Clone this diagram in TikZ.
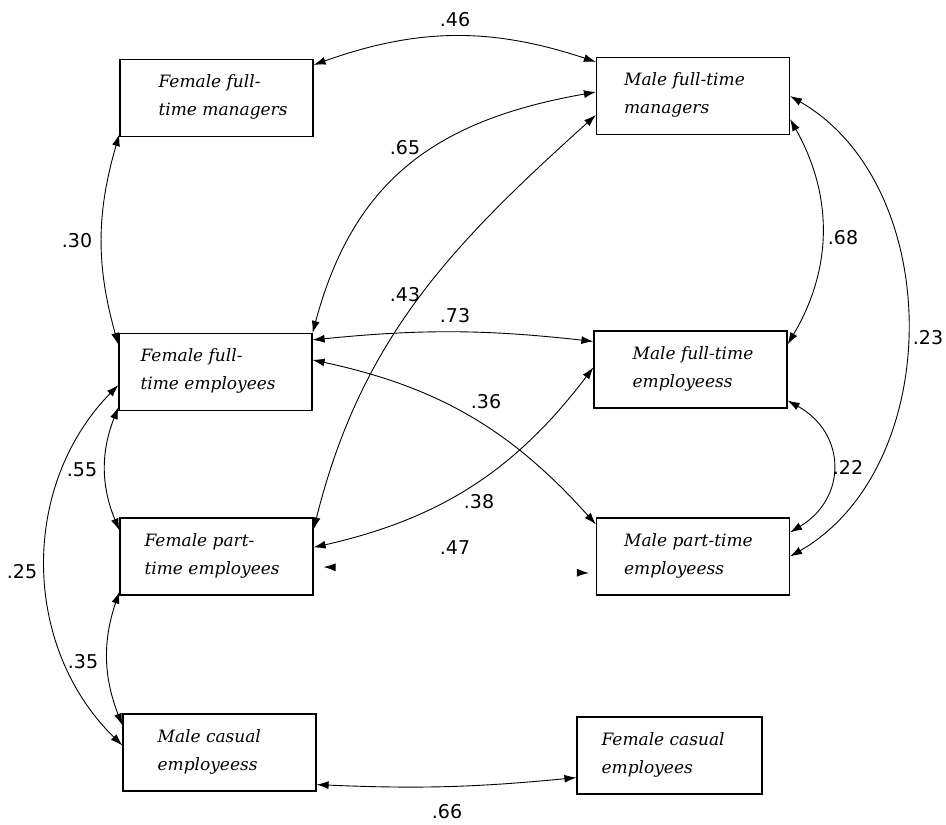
\documentclass[tikz,border=0pt]{standalone}
\usepackage{fontspec}
\setmainfont{DejaVu Serif}
\newfontfamily\valuefont{DejaVu Sans}
\usetikzlibrary{arrows.meta}
\usetikzlibrary{positioning}

\begin{document}
\begin{tikzpicture}[x = 1pt, y = 1pt]
	\tikzstyle{boxStyle} = [shape = rectangle, draw, line width = 1.2pt, minimum width = 193pt, minimum height = 77pt, inner sep = 0pt]
	\tikzstyle{textStyle} = [font = \fontsize{17}{28}\selectfont\itshape, align = left, inner sep = 0pt, anchor = west, yshift = 1pt]
	\tikzstyle{valueStyle} = [font = \fontsize{19}{21}\selectfont\valuefont, inner sep = 0pt]
	\tikzstyle{edgeStyle} = [<->, >={Latex[length=12pt, width=8pt]}, line width = 0.9pt]
	\useasboundingbox (0,0) rectangle (946,-825);
	\node[boxStyle] (v0) at (216.5,-98) {};
	\node[boxStyle] (v1) at (693,-96) {};
	\node[boxStyle] (v2) at (215.5,-372) {};
	\node[boxStyle] (v3) at (690.5,-369.5) {};
	\node[boxStyle] (v4) at (216.5,-556.5) {};
	\node[boxStyle] (v5) at (693,-556.5) {};
	\node[boxStyle] (v6) at (219.5,-752.5) {};
	\node[boxStyle, minimum width = 185pt] (v7) at (669.5,-755.5) {};
	\node[textStyle, right = 39pt of v0.west] (t0) {Female full-\\time managers};
	\node[textStyle, right = 28pt of v1.west] (t1) {Male full-time\\managers};
	\node[textStyle, right = 22pt of v2.west] (t2) {Female full-\\time employees};
	\node[textStyle, right = 39pt of v3.west] (t3) {Male full-time\\employeess};
	\node[textStyle, right = 25pt of v4.west] (t4) {Female part-\\time employees};
	\node[textStyle, right = 28pt of v5.west] (t5) {Male part-time\\employeess};
	\node[textStyle, right = 35pt of v6.west] (t6) {Male casual\\employeess};
	\node[textStyle, right = 25pt of v7.west] (t7) {Female casual\\employees};
	\draw[edgeStyle] ([yshift=-6pt]v0.north east) to[bend left=19] ([yshift=-5pt]v1.north west);
	\draw[edgeStyle] ([yshift=4pt]v1.west) to[out=190, in=75, looseness=1.1] (v2.north east);
	\draw[edgeStyle] ([yshift=-19pt]v1.west) to[out=222, in=76] ([yshift=-12pt]v4.north east);
	\draw[edgeStyle] ([yshift=-7pt]v2.north east) to[bend left=6] ([yshift=-11pt]v3.north west);
	\draw[edgeStyle] ([yshift=-27pt]v2.north east) to[bend left=18] ([yshift=-7pt]v5.north west);
	\draw[edgeStyle] ([yshift=-37pt]v3.north west) to[bend left=20] ([yshift=-30pt]v4.north east);
	\draw[edgeStyle, dash pattern = on 0pt off 1000pt] ([xshift=10pt, yshift=-10.5pt]v4.east) -- ([xshift=-7pt, yshift=-16.5pt]v5.west);
	\draw[edgeStyle] ([yshift=3pt]v0.south west) to[bend right=16] ([yshift=-12pt]v2.north west);
	\draw[edgeStyle] ([yshift=4pt]v2.south west) to[bend right=22] ([yshift=-13pt]v4.north west);
	\draw[edgeStyle] ([yshift=-13pt]v2.west) to[bend right=45] ([yshift=7pt]v6.west);
	\draw[edgeStyle] ([yshift=4pt]v4.south west) to[bend right=20] ([yshift=-12pt]v6.north west);
	\draw[edgeStyle] ([yshift=7pt]v6.south east) to[bend right=4] ([yshift=17pt]v7.south west);
	\draw[edgeStyle] ([yshift=16pt]v1.south east) to[bend left=30] ([yshift=-14pt]v3.north east);
	\draw[edgeStyle] (v1.east) to[bend left=60] (v5.east);
	\draw[edgeStyle] ([yshift=8pt]v3.south east) to[bend left=60, looseness=1.3] ([yshift=-15pt]v5.north east);
	\node[valueStyle] (r0) at (455,-20) {.46};
	\node[valueStyle] (r1) at (405,-148) {.65};
	\node[valueStyle] (r2) at (405,-295) {.43};
	\node[valueStyle] (r3) at (455,-316) {.73};
	\node[valueStyle] (r4) at (486,-402) {.36};
	\node[valueStyle] (r5) at (479,-502) {.38};
	\node[valueStyle] (r6) at (455,-548) {.47};
	\node[valueStyle] (r7) at (77,-241) {.30};
	\node[valueStyle] (r8) at (82,-470) {.55};
	\node[valueStyle] (r9) at (22,-572) {.25};
	\node[valueStyle] (r10) at (83,-662) {.35};
	\node[valueStyle] (r11) at (447,-812) {.66};
	\node[valueStyle] (r12) at (843,-238) {.68};
	\node[valueStyle] (r13) at (928,-338) {.23};
	\node[valueStyle] (r14) at (848,-467) {.22};
\end{tikzpicture}
\end{document}
